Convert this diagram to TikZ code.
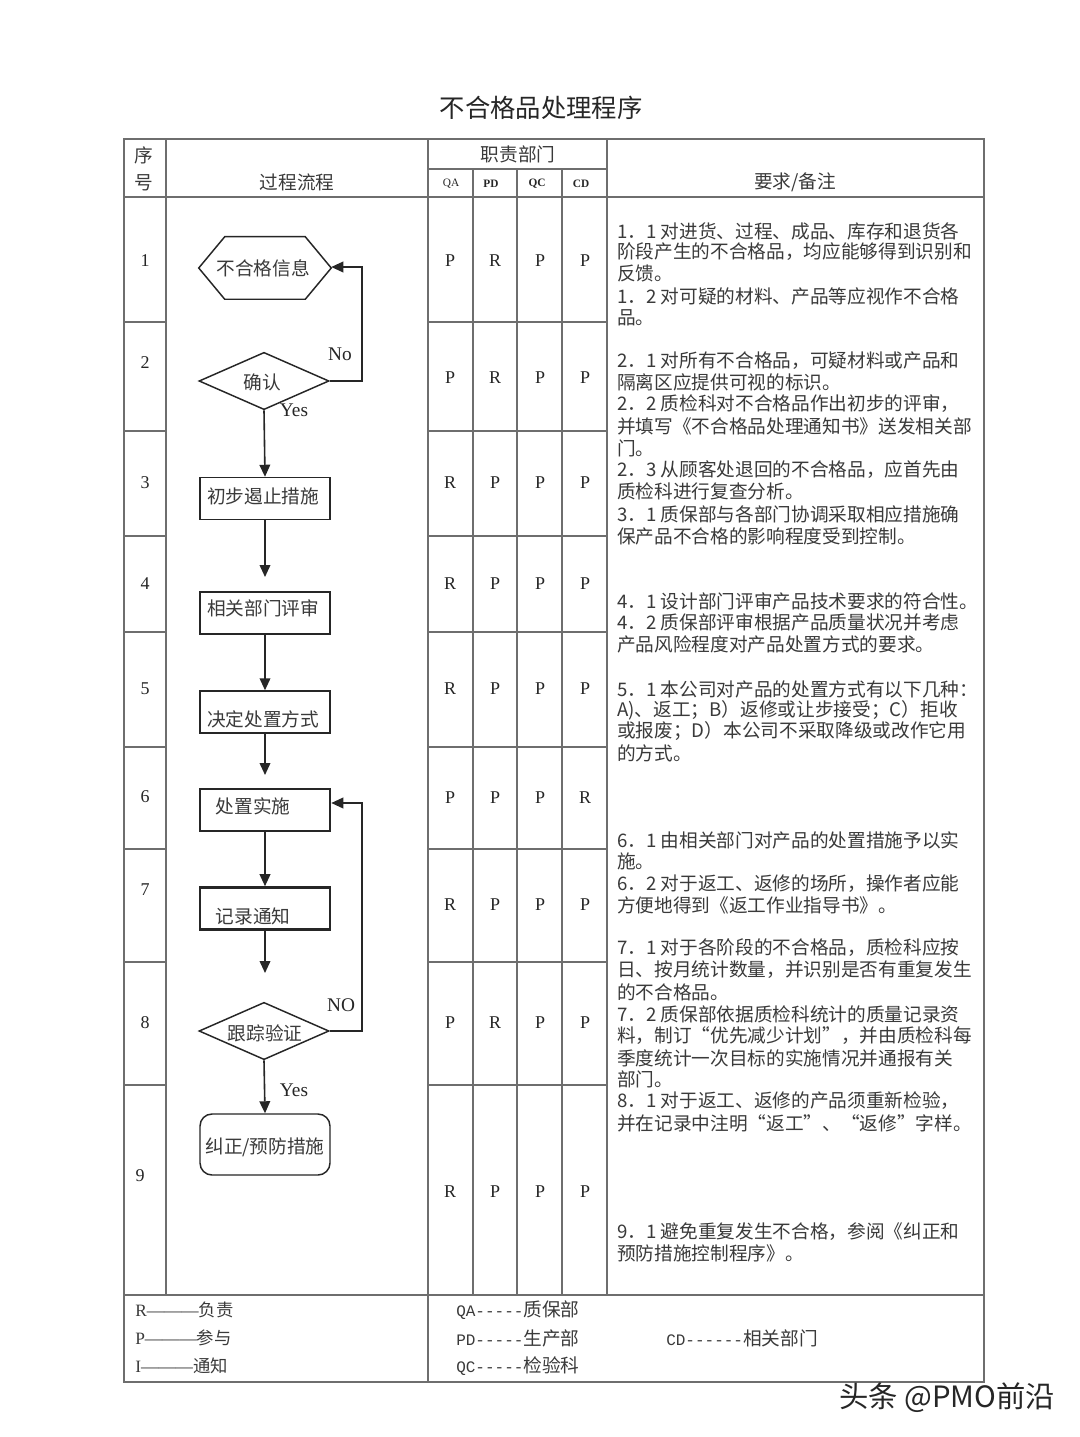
\documentclass[tikz,border=0pt]{standalone}
\usepackage{fontspec}
\setmainfont{Liberation Serif}
\newfontfamily\cjk{Noto Sans CJK SC}
\newfontfamily\mono{Liberation Mono}
\usetikzlibrary{arrows.meta,shapes.geometric,calc}
\definecolor{gridc}{HTML}{6E6E6E}
\definecolor{ink}{HTML}{262626}
\definecolor{txt}{HTML}{3A3A3A}
\begin{document}
\begin{tikzpicture}[x=0.75pt,y=-0.75pt,
  gridline/.style={draw=gridc,line width=0.8pt},
  flowbox/.style={draw=ink,line width=1.1pt,minimum width=97.5pt,minimum height=31.5pt,inner sep=0pt},
  thickbox/.style={flowbox,line width=1.9pt},
  decision/.style={diamond,draw=ink,line width=1.1pt,minimum width=97.5pt,minimum height=43pt,inner sep=0pt},
  flowtxt/.style={font=\cjk\fontsize{14}{16}\selectfont,text=txt,inner sep=0pt},
  lbl/.style={font=\fontsize{14.5}{16}\selectfont,text=ink,inner sep=0pt},
  cell/.style={font=\fontsize{13.5}{15}\selectfont,text=ink,inner sep=0pt},
  head/.style={font=\cjk\fontsize{14}{16}\selectfont,text=txt,inner sep=0pt},
  note/.style={font=\cjk\fontsize{14}{16}\selectfont,text=txt,inner sep=0pt,anchor=west},
  legend/.style={font=\fontsize{13}{15}\selectfont,text=txt,inner sep=0pt,anchor=west},
  arr/.style={draw=ink,line width=1.2pt,-{Triangle[length=9pt,width=8pt]}},
  loopline/.style={draw=ink,line width=1.2pt}
]
\useasboundingbox[fill=white] (0,0) rectangle (1080,1437);

% title
\node[font=\cjk\fontsize{19}{21}\selectfont,text=ink,inner sep=0pt] (title) at (541,108) {不合格品处理程序};

% ---------- table grid ----------
\draw[gridline] (124,139) rectangle (984,1382);
\draw[gridline] (166,139) -- (166,1295);
\draw[gridline] (428,139) -- (428,1382);
\draw[gridline] (607,139) -- (607,1295);
\foreach \xx in {473,517,562} \draw[gridline] (\xx,169) -- (\xx,1295);
\draw[gridline] (428,169) -- (607,169);
\draw[gridline] (124,197) -- (984,197);
\draw[gridline] (124,1295) -- (984,1295);
\foreach \yy in {322,431,536,632,747,849,962,1085} {
  \draw[gridline] (124,\yy) -- (166,\yy);
  \draw[gridline] (428,\yy) -- (607,\yy);
}

% header
\node[head] (hxu) at (144,155) {序};
\node[head] (hhao) at (144,183) {号};
\node[head] (hflow) at (297,182) {过程流程};
\node[head] (hdept) at (518,154) {职责部门};
\node[font=\fontsize{8.5}{10}\selectfont,text=ink,inner sep=0pt] (hqa) at (451,184) {QA};
\node[font=\bfseries\fontsize{8.5}{10}\selectfont,text=ink,inner sep=0pt] (hpd) at (491,184) {PD};
\node[font=\bfseries\fontsize{8.5}{10}\selectfont,text=ink,inner sep=0pt] (hqc) at (537,184) {QC};
\node[font=\bfseries\fontsize{8.5}{10}\selectfont,text=ink,inner sep=0pt] (hcd) at (581,184) {CD};
\node[head] (hreq) at (795,182) {要求/备注};

% row numbers
\foreach \n/\yy/\xx in {1/261/145,2/363/145,3/483/145,4/584/145,5/689/145,6/797/145,7/890/145,8/1023/145,9/1176/140}
  \node[cell] (num\n) at (\xx,\yy) {\n};

% responsibility matrix
\foreach \r/\yy/\a/\b/\c/\d in {1/261/P/R/P/P,2/378/P/R/P/P,3/483/R/P/P/P,4/584/R/P/P/P,5/689/R/P/P/P,6/798/P/P/P/R,7/905/R/P/P/P,8/1023/P/R/P/P,9/1192/R/P/P/P}{
  \node[cell] (m\r a) at (450,\yy) {\a};
  \node[cell] (m\r b) at (495,\yy) {\b};
  \node[cell] (m\r c) at (540,\yy) {\c};
  \node[cell] (m\r d) at (585,\yy) {\d};
}

% ---------- flowchart ----------
\node[minimum width=99pt,minimum height=46.5pt,inner sep=0pt] (hex) at (265,268) {};
\draw[draw=ink,line width=1.1pt] (hex.west) -- ($(hex.north west)+(26,0)$) -- ($(hex.north east)+(-26,0)$) -- (hex.east) -- ($(hex.south east)+(-26,0)$) -- ($(hex.south west)+(26,0)$) -- cycle;
\node[flowtxt] (thex) at (263,268) {不合格信息};

\node[decision] (d1) at (264,381) {};
\node[flowtxt] (td1) at (262,382) {确认};

\node[flowbox] (b1) at (265,498.5) {};
\node[flowtxt] (tb1) at (263,496) {初步遏止措施};

\node[flowbox] (b2) at (265,613) {};
\node[flowtxt] (tb2) at (263,608) {相关部门评审};

\node[flowbox] (b3) at (265,712) {};
\node[flowtxt] (tb3) at (263,719) {决定处置方式};

\node[thickbox] (b4) at (265,810) {};
\node[flowtxt] (tb4) at (253,806) {处置实施};

\node[thickbox] (b5) at (265,908.5) {};
\node[flowtxt] (tb5) at (253,916) {记录通知};

\node[decision] (d2) at (264,1031) {};
\node[flowtxt] (td2) at (265,1033) {跟踪验证};

\node[flowbox,rounded corners=9pt,minimum height=45.75pt] (b6) at (265,1144.5) {};
\node[flowtxt] (tb6) at (265,1147) {纠正/预防措施};

\coordinate (a1) at (265,577);
\coordinate (a2) at (265,775);
\coordinate (a3) at (265,973);
\coordinate (no1) at (362,381);
\coordinate (no1t) at (362,267);
\coordinate (no2) at (362,1031);
\coordinate (no2t) at (362,803);

\draw[arr] (d1.south) -- (b1.north);
\draw[arr] (b1.south) -- (a1);
\draw[arr] (b2.south) -- (b3.north);
\draw[arr] (b3.south) -- (a2);
\draw[arr] (b4.south) -- (b5.north);
\draw[arr] (b5.south) -- (a3);
\draw[arr] (d2.south) -- (b6.north);
\draw[arr] (d1.east) -- (no1) -- (no1t) -- (hex.east |- no1t);
\draw[arr] (d2.east) -- (no2) -- (no2t) -- (b4.east |- no2t);

\node[lbl] (lno) at (340,354) {No};
\node[lbl] (lyes1) at (294,410) {Yes};
\node[lbl] (lno2) at (341,1005) {NO};
\node[lbl] (lyes2) at (294,1090) {Yes};

% ---------- requirements text ----------
\foreach \i/\yy/\t in {
 r1/231/{1．1 对进货、过程、成品、库存和退货各},
 r2/252/{阶段产生的不合格品，均应能够得到识别和},
 r3/273/{反馈。},
 r4/296/{1．2 对可疑的材料、产品等应视作不合格},
 r5/318/{品。},
 r6/361/{2．1 对所有不合格品，可疑材料或产品和},
 r7/382/{隔离区应提供可视的标识。},
 r8/404/{2．2 质检科对不合格品作出初步的评审，},
 r9/426/{并填写《不合格品处理通知书》送发相关部},
 r10/448/{门。},
 r11/470/{2．3 从顾客处退回的不合格品，应首先由},
 r12/491/{质检科进行复查分析。},
 r13/514/{3．1 质保部与各部门协调采取相应措施确},
 r14/536/{保产品不合格的影响程度受到控制。},
 r15/601/{4．1 设计部门评审产品技术要求的符合性。},
 r16/622/{4．2 质保部评审根据产品质量状况并考虑},
 r17/644/{产品风险程度对产品处置方式的要求。},
 r18/689/{5．1 本公司对产品的处置方式有以下几种：},
 r19/710/{A)、返工；B）返修或让步接受；C）拒收},
 r20/731/{或报废；D）本公司不采取降级或改作它用},
 r21/753/{的方式。},
 r22/840/{6．1 由相关部门对产品的处置措施予以实},
 r23/861/{施。},
 r24/884/{6．2 对于返工、返修的场所，操作者应能},
 r25/905/{方便地得到《返工作业指导书》。},
 r26/948/{7．1 对于各阶段的不合格品，质检科应按},
 r27/970/{日、按月统计数量，并识别是否有重复发生},
 r28/992/{的不合格品。},
 r29/1014/{7．2 质保部依据质检科统计的质量记录资},
 r30/1036/{料，制订“优先减少计划”，并由质检科每},
 r31/1058/{季度统计一次目标的实施情况并通报有关},
 r32/1079/{部门。},
 r33/1101/{8．1 对于返工、返修的产品须重新检验，},
 r34/1123/{并在记录中注明“返工”、“返修”字样。},
 r35/1232/{9．1 避免重复发生不合格，参阅《纠正和},
 r36/1253/{预防措施控制程序》。}
}{
  \node[note] (\i) at (617,\yy) {\t};
}

% ---------- legend ----------
\node[legend] (lgR) at (135,1310) {R———{\cjk 负责}};
\node[legend] (lgP) at (135,1338) {P———{\cjk 参与}};
\node[legend] (lgI) at (135,1366) {I———{\cjk 通知}};
\node[legend] (lgQA) at (456,1310) {{\mono\fontsize{12}{14}\selectfont QA-----}{\cjk\fontsize{14}{16}\selectfont 质保部}};
\node[legend] (lgPD) at (456,1338) {{\mono\fontsize{12}{14}\selectfont PD-----}{\cjk\fontsize{14}{16}\selectfont 生产部}};
\node[legend] (lgQC) at (456,1366) {{\mono\fontsize{12}{14}\selectfont QC-----}{\cjk\fontsize{14}{16}\selectfont 检验科}};
\node[legend] (lgCD) at (666,1338) {{\mono\fontsize{12}{14}\selectfont CD------}{\cjk\fontsize{14}{16}\selectfont 相关部门}};

% watermark
\node[font=\cjk\fontsize{22}{24}\selectfont,text=ink,inner sep=0pt] (wm) at (947,1398) {头条 @PMO前沿};
\end{tikzpicture}
\end{document}
